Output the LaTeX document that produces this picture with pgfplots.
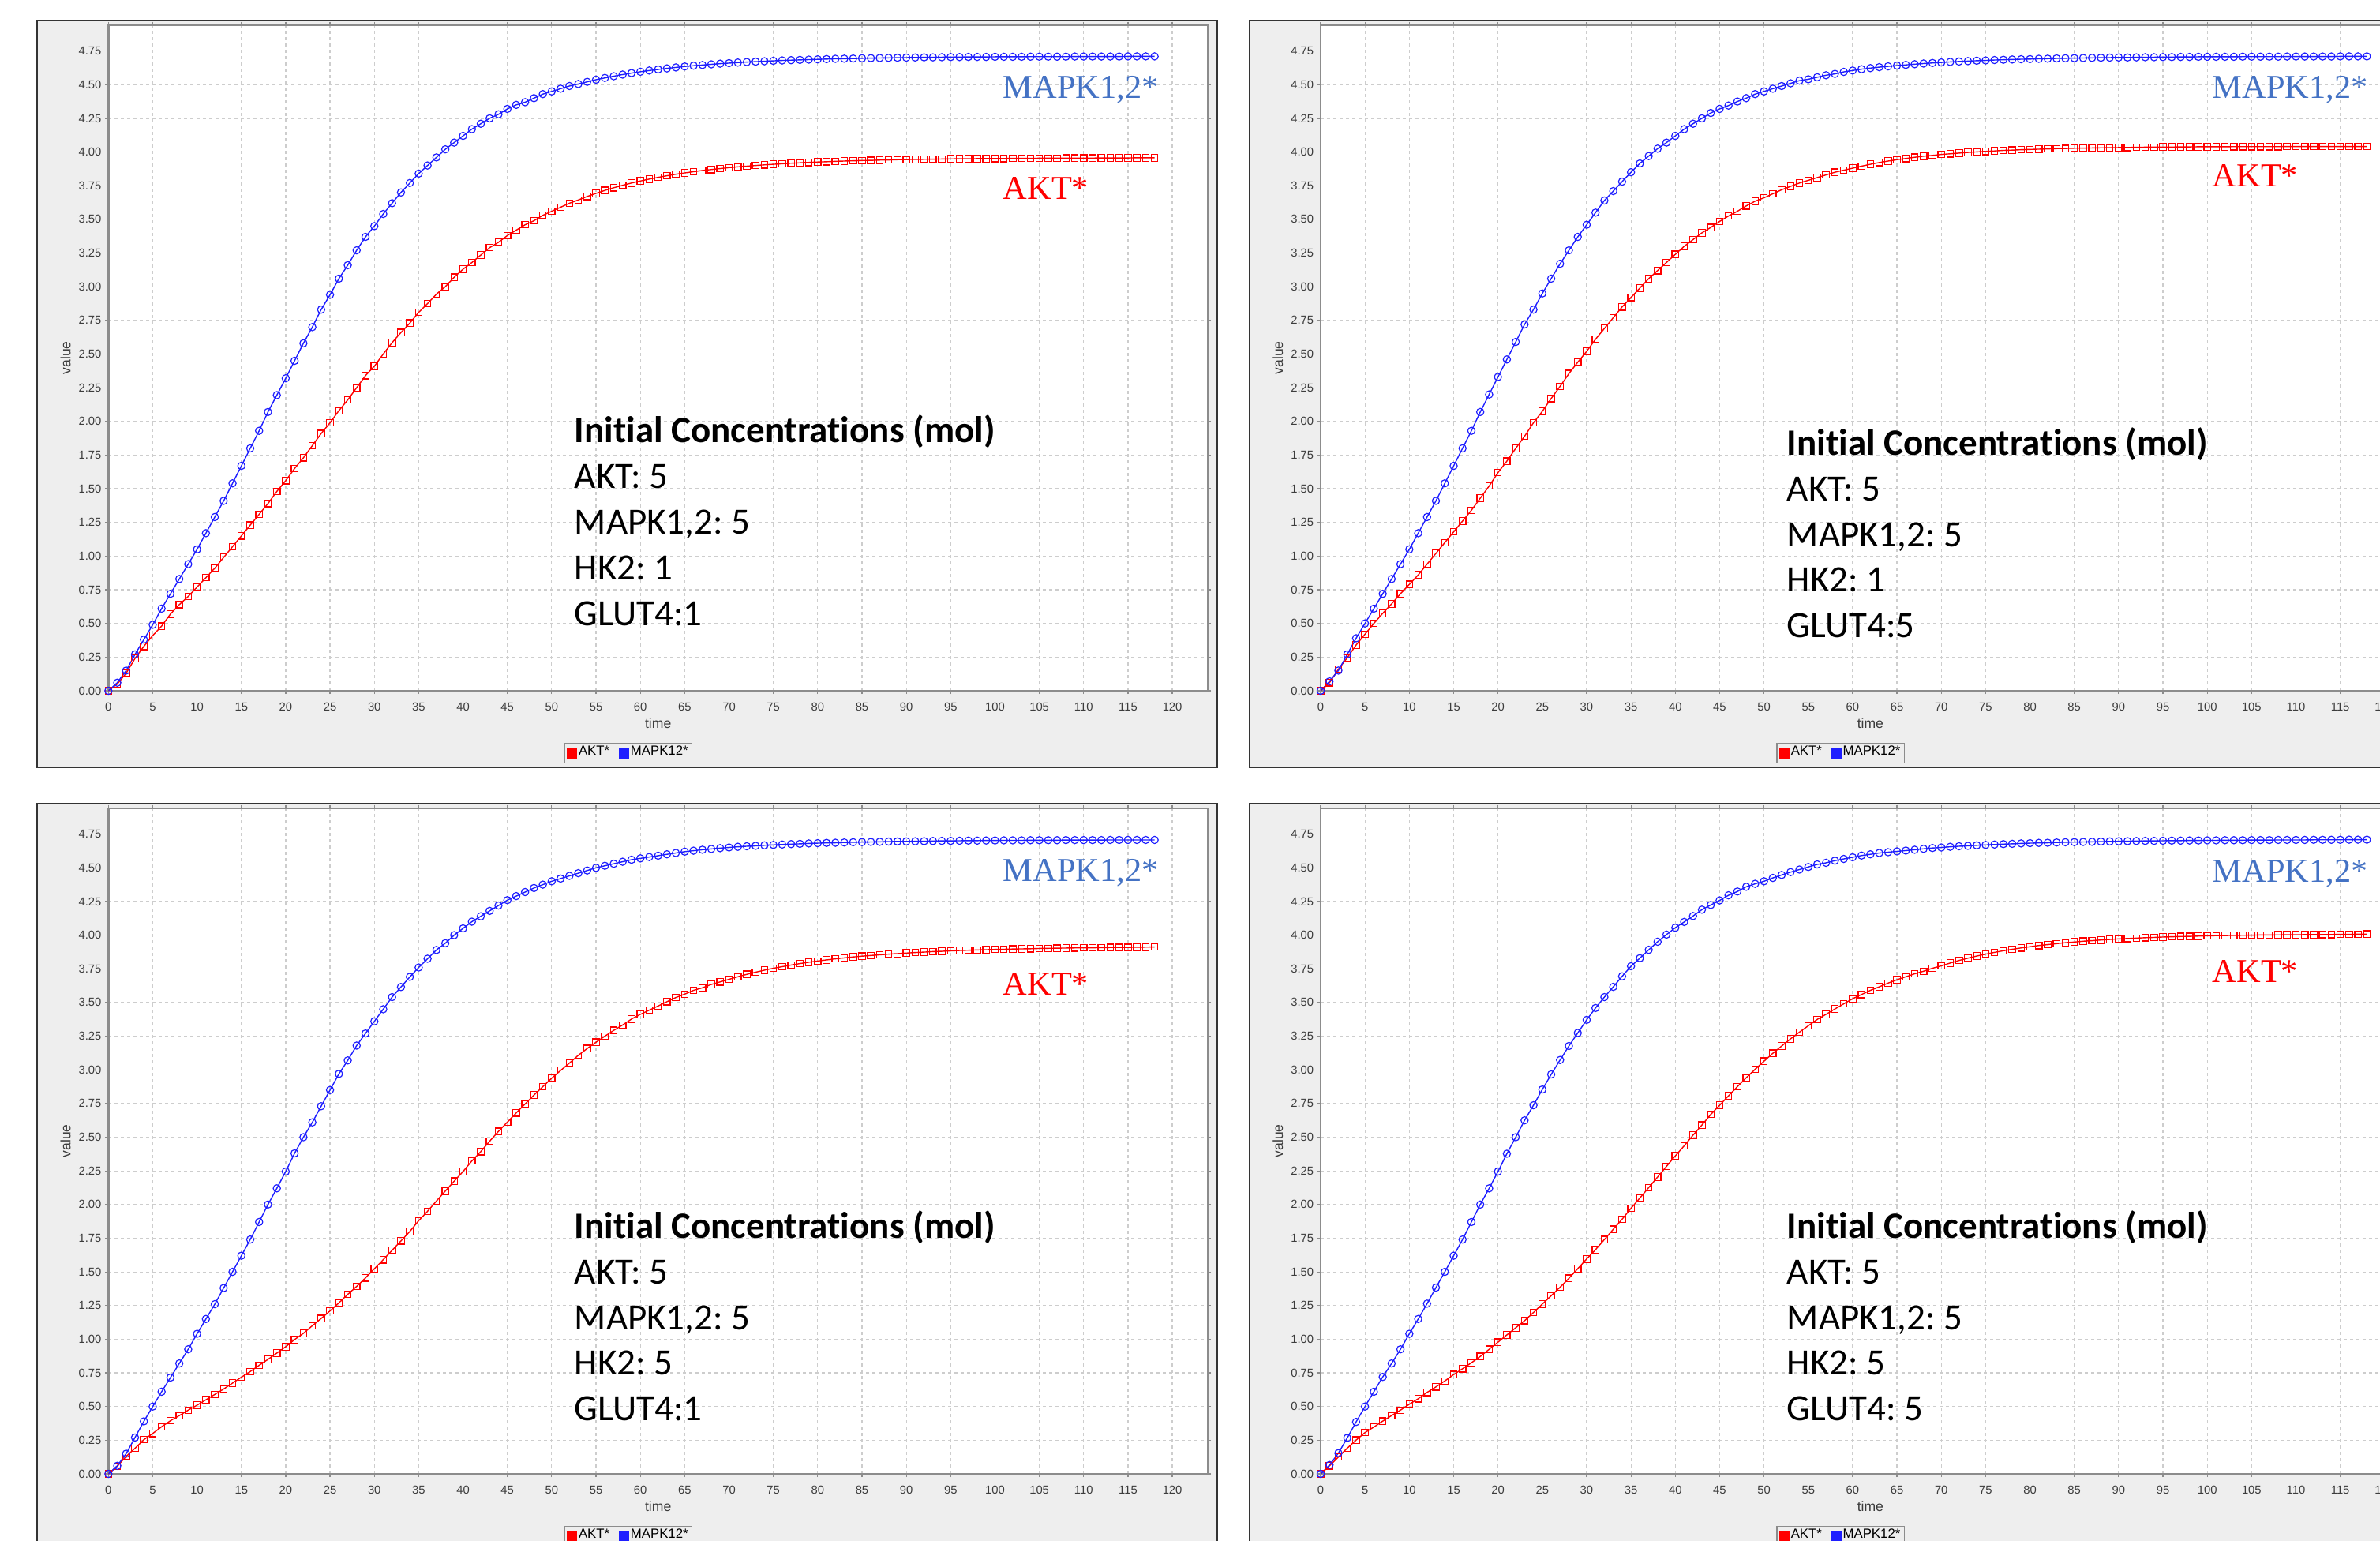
\documentclass[border=0pt]{standalone}
\usepackage{fontspec}
\setmainfont{Liberation Sans}
\newfontfamily\tnr{Liberation Serif}
\newfontfamily\calibri{Carlito}[Ligatures=NoCommon]
\usepackage{pgfplots}
\usepackage{pgfplotstable}
\pgfplotsset{compat=1.18}
\frenchspacing

\definecolor{bgc}{RGB}{238,238,238}
\definecolor{gridc}{RGB}{205,205,205}
\definecolor{framec}{RGB}{140,140,140}
\definecolor{tickc}{RGB}{60,60,60}
\definecolor{mapkc}{RGB}{68,114,196}
\definecolor{serblue}{RGB}{30,30,255}
\definecolor{serred}{RGB}{255,0,0}

\pgfplotstableread{
t b1 r1 b2 r2 b3 r3 b4 r4
0 0 0 0 0 0 0 0 0
1 0.06 0.05 0.07 0.06 0.06 0.056 0.066 0.06
2 0.15 0.13 0.15 0.16 0.15 0.13 0.154 0.125
3 0.27 0.24 0.27 0.245 0.27 0.19 0.267 0.191
4 0.38 0.33 0.39 0.34 0.39 0.254 0.386 0.251
5 0.49 0.41 0.50 0.42 0.50 0.30 0.50 0.307
6 0.61 0.48 0.61 0.50 0.61 0.35 0.61 0.348
7 0.72 0.57 0.72 0.575 0.715 0.395 0.72 0.392
8 0.83 0.64 0.83 0.645 0.82 0.433 0.82 0.433
9 0.94 0.70 0.94 0.72 0.925 0.473 0.925 0.473
10 1.05 0.77 1.05 0.79 1.04 0.51 1.04 0.517
11 1.17 0.84 1.17 0.86 1.15 0.55 1.15 0.558
12 1.29 0.91 1.29 0.94 1.26 0.59 1.264 0.605
13 1.41 0.99 1.41 1.02 1.38 0.63 1.383 0.646
14 1.54 1.07 1.54 1.10 1.50 0.674 1.50 0.69
15 1.67 1.15 1.67 1.18 1.62 0.718 1.62 0.737
16 1.80 1.23 1.80 1.26 1.74 0.76 1.74 0.781
17 1.93 1.31 1.93 1.34 1.87 0.806 1.87 0.825
18 2.07 1.39 2.07 1.43 2.00 0.85 2.00 0.872
19 2.195 1.48 2.20 1.52 2.12 0.897 2.12 0.925
20 2.32 1.56 2.33 1.62 2.245 0.944 2.245 0.978
21 2.45 1.65 2.46 1.705 2.38 0.997 2.377 1.032
22 2.58 1.73 2.59 1.80 2.50 1.044 2.50 1.085
23 2.70 1.82 2.72 1.89 2.61 1.10 2.625 1.138
24 2.83 1.91 2.83 1.99 2.73 1.154 2.737 1.198
25 2.94 1.99 2.95 2.075 2.85 1.21 2.854 1.261
26 3.06 2.08 3.06 2.17 2.97 1.27 2.966 1.323
27 3.16 2.16 3.17 2.26 3.07 1.333 3.073 1.386
28 3.27 2.25 3.27 2.355 3.18 1.392 3.177 1.452
29 3.37 2.34 3.37 2.44 3.27 1.455 3.274 1.524
30 3.45 2.41 3.46 2.52 3.36 1.524 3.371 1.596
31 3.54 2.50 3.55 2.61 3.45 1.59 3.459 1.665
32 3.62 2.585 3.64 2.69 3.54 1.66 3.54 1.74
33 3.70 2.66 3.71 2.77 3.615 1.73 3.616 1.816
34 3.77 2.73 3.78 2.85 3.69 1.80 3.694 1.891
35 3.84 2.81 3.85 2.92 3.76 1.88 3.769 1.972
36 3.90 2.875 3.915 2.99 3.825 1.95 3.829 2.048
37 3.96 2.945 3.97 3.06 3.89 2.026 3.891 2.126
38 4.02 3.00 4.025 3.12 3.94 2.10 3.951 2.204
39 4.07 3.07 4.07 3.18 4.00 2.173 4.004 2.283
40 4.12 3.13 4.12 3.24 4.05 2.245 4.055 2.361
41 4.17 3.18 4.17 3.30 4.10 2.324 4.098 2.436
42 4.21 3.235 4.21 3.35 4.14 2.393 4.142 2.515
43 4.25 3.29 4.25 3.40 4.18 2.47 4.189 2.59
44 4.28 3.33 4.29 3.44 4.22 2.543 4.224 2.669
45 4.32 3.38 4.32 3.485 4.26 2.612 4.258 2.737
46 4.35 3.42 4.345 3.525 4.29 2.68 4.296 2.807
47 4.37 3.46 4.375 3.56 4.32 2.747 4.324 2.875
48 4.40 3.49 4.40 3.60 4.35 2.813 4.359 2.941
49 4.43 3.53 4.43 3.635 4.375 2.875 4.381 3.004
50 4.45 3.56 4.45 3.66 4.40 2.938 4.40 3.064
51 4.47 3.59 4.47 3.69 4.42 2.995 4.425 3.123
52 4.49 3.62 4.49 3.72 4.44 3.05 4.447 3.177
53 4.505 3.644 4.51 3.745 4.46 3.108 4.468 3.23
54 4.521 3.670 4.53 3.77 4.48 3.158 4.487 3.28
55 4.537 3.693 4.54 3.79 4.50 3.205 4.506 3.327
56 4.550 3.715 4.555 3.81 4.515 3.25 4.525 3.374
57 4.563 3.735 4.57 3.83 4.53 3.293 4.537 3.412
58 4.575 3.753 4.58 3.85 4.545 3.333 4.553 3.452
59 4.586 3.770 4.595 3.865 4.56 3.377 4.566 3.49
60 4.596 3.785 4.605 3.88 4.57 3.412 4.578 3.528
61 4.605 3.799 4.615 3.895 4.58 3.443 4.591 3.559
62 4.613 3.812 4.623 3.909 4.59 3.474 4.60 3.59
63 4.621 3.824 4.630 3.922 4.60 3.506 4.61 3.616
64 4.628 3.835 4.636 3.933 4.61 3.537 4.616 3.644
65 4.635 3.845 4.642 3.943 4.62 3.562 4.622 3.669
66 4.641 3.854 4.647 3.952 4.627 3.59 4.628 3.691
67 4.646 3.863 4.652 3.961 4.634 3.609 4.634 3.713
68 4.651 3.870 4.657 3.969 4.64 3.634 4.641 3.732
69 4.656 3.877 4.661 3.975 4.646 3.653 4.647 3.754
70 4.660 3.884 4.665 3.982 4.651 3.672 4.651 3.772
71 4.664 3.890 4.669 3.987 4.656 3.691 4.656 3.793
72 4.668 3.895 4.672 3.992 4.660 3.709 4.660 3.812
73 4.671 3.900 4.675 3.997 4.663 3.725 4.663 3.829
74 4.674 3.905 4.678 4.001 4.667 3.740 4.667 3.845
75 4.677 3.909 4.680 4.005 4.670 3.754 4.670 3.859
76 4.680 3.913 4.683 4.008 4.673 3.766 4.673 3.872
77 4.682 3.917 4.685 4.012 4.676 3.778 4.676 3.884
78 4.684 3.920 4.687 4.014 4.678 3.789 4.678 3.895
79 4.686 3.923 4.689 4.017 4.681 3.799 4.681 3.905
80 4.688 3.926 4.690 4.019 4.683 3.808 4.683 3.914
81 4.690 3.928 4.692 4.021 4.685 3.816 4.685 3.923
82 4.692 3.931 4.693 4.023 4.686 3.824 4.686 3.930
83 4.693 3.933 4.695 4.025 4.688 3.831 4.688 3.937
84 4.694 3.935 4.696 4.026 4.690 3.838 4.690 3.944
85 4.696 3.937 4.697 4.028 4.691 3.844 4.691 3.949
86 4.697 3.938 4.698 4.029 4.692 3.849 4.692 3.955
87 4.698 3.940 4.699 4.030 4.693 3.854 4.693 3.959
88 4.699 3.941 4.700 4.031 4.695 3.859 4.695 3.964
89 4.700 3.943 4.701 4.032 4.696 3.863 4.696 3.968
90 4.701 3.944 4.702 4.033 4.696 3.867 4.697 3.972
91 4.702 3.945 4.702 4.034 4.697 3.871 4.698 3.975
92 4.703 3.946 4.703 4.035 4.698 3.874 4.699 3.978
93 4.703 3.947 4.704 4.036 4.699 3.878 4.700 3.981
94 4.704 3.948 4.704 4.036 4.700 3.880 4.700 3.983
95 4.705 3.949 4.705 4.037 4.700 3.883 4.701 3.986
96 4.705 3.950 4.705 4.037 4.701 3.886 4.702 3.988
97 4.706 3.950 4.706 4.038 4.702 3.888 4.702 3.990
98 4.706 3.951 4.706 4.038 4.702 3.890 4.703 3.991
99 4.706 3.951 4.707 4.039 4.703 3.892 4.703 3.993
100 4.707 3.952 4.707 4.039 4.703 3.894 4.704 3.995
101 4.707 3.952 4.707 4.039 4.704 3.895 4.704 3.996
102 4.707 3.953 4.707 4.039 4.704 3.897 4.705 3.997
103 4.707 3.953 4.707 4.040 4.704 3.898 4.705 3.998
104 4.708 3.953 4.708 4.040 4.705 3.899 4.705 3.999
105 4.708 3.954 4.708 4.040 4.705 3.901 4.706 4.000
106 4.708 3.954 4.708 4.040 4.705 3.902 4.706 4.001
107 4.708 3.954 4.708 4.040 4.705 3.903 4.706 4.001
108 4.708 3.955 4.708 4.040 4.706 3.904 4.707 4.002
109 4.709 3.955 4.709 4.041 4.706 3.905 4.707 4.003
110 4.709 3.955 4.709 4.041 4.706 3.906 4.707 4.003
111 4.709 3.955 4.709 4.041 4.706 3.906 4.707 4.004
112 4.709 3.956 4.709 4.041 4.706 3.907 4.708 4.004
113 4.709 3.956 4.709 4.041 4.707 3.908 4.708 4.005
114 4.709 3.956 4.709 4.041 4.707 3.908 4.708 4.005
115 4.710 3.956 4.710 4.041 4.707 3.909 4.708 4.006
116 4.710 3.957 4.710 4.041 4.707 3.910 4.709 4.006
117 4.710 3.957 4.710 4.041 4.707 3.911 4.709 4.007
118 4.710 3.957 4.710 4.041 4.707 3.912 4.709 4.008
}\data

\pgfplotsset{
  panel/.style={
    scale only axis, width=348.175pt, height=210.825pt,
    anchor=south west,
    xmin=0, xmax=124, ymin=0, ymax=4.943,
    xtick={0,5,10,15,20,25,30,35,40,45,50,55,60,65,70,75,80,85,90,95,100,105,110,115,120},
    ytick={0,0.25,0.5,0.75,1,1.25,1.5,1.75,2,2.25,2.5,2.75,3,3.25,3.5,3.75,4,4.25,4.5,4.75},
    grid=major,
    grid style={draw=gridc, line width=0.3pt, dash pattern=on 1pt off 1pt},
    axis line style={draw=framec, line width=0.6pt},
    tick align=outside, major tick length=1pt,
    tick style={draw=framec, line width=0.3pt},
    /pgf/number format/assume math mode=true,
    ticklabel style={font=\fontsize{3.7}{4}\selectfont, text=tickc},
    yticklabel style={/pgf/number format/fixed, /pgf/number format/fixed zerofill, /pgf/number format/precision=2, xshift=2.3pt},
    xticklabel style={/pgf/number format/fixed, yshift=0.7pt},
    xlabel={time}, ylabel={value},
    label style={font=\fontsize{4.4}{5}\selectfont, text=tickc},
    xlabel style={at={(axis description cs:0.5,-0.0486)}, anchor=center},
    ylabel style={at={(axis description cs:-0.039,0.5)}, anchor=center},
    axis background/.style={fill=white},
    legend columns=2,
    legend image code/.code={\fill (0pt,-1.7pt) rectangle (2.8pt,1.7pt);},
    legend style={at={(axis description cs:0.473,-0.0937)}, anchor=center,
      draw=framec, fill=bgc, line width=0.3pt,
      font=\fontsize{4.2}{4.6}\selectfont, text=black,
      inner xsep=0.8pt, inner ysep=0.5pt,
      nodes={inner sep=0.5pt},
      /tikz/every even column/.append style={column sep=2.5pt}},
  },
  akt/.style={color=serred, line width=0.35pt, mark=square, mark size=1.05pt, mark options={solid, line width=0.3pt}},
  mapk/.style={color=serblue, line width=0.35pt, mark=o, mark size=1.15pt, mark options={solid, line width=0.3pt}},
}

\newcommand\conc[4]{%
  \begin{scope}[every node/.style={anchor=base west, inner sep=0pt, font=\calibri\fontsize{11.75}{14}\selectfont}]
    \node at (#1pt,#2pt) {\bfseries Initial Concentrations (mol)};
    \node at (#1pt,#2pt) [yshift=-14.45pt] {AKT: 5};
    \node at (#1pt,#2pt) [yshift=-28.9pt] {MAPK1,2: 5};
    \node at (#1pt,#2pt) [yshift=-43.35pt] {#3};
    \node at (#1pt,#2pt) [yshift=-57.8pt] {#4};
  \end{scope}}

\newcommand\serlab[4]{%
  \node[anchor=base west, inner sep=0pt, text=mapkc, font=\tnr\fontsize{10.6}{12}\selectfont] at (#1pt,#2pt) {MAPK1,2*};
  \node[anchor=base west, inner sep=0pt, text=serred, font=\tnr\fontsize{10.6}{12}\selectfont] at (#3pt,#4pt) {AKT*};}

\begin{document}
\begin{tikzpicture}
\useasboundingbox (0,0) rectangle (753.75pt,487.75pt);
\clip (0,0) rectangle (753.75pt,487.75pt);
\fill[white] (0,0) rectangle (753.75pt,487.75pt);
% panel backgrounds
\filldraw[fill=bgc, draw=black!80, line width=0.5pt] (11.75pt,244.75pt) rectangle (385.5pt,481.325pt);
\filldraw[fill=bgc, draw=black!80, line width=0.5pt] (395.675pt,244.75pt) rectangle (769.425pt,481.325pt);
\filldraw[fill=bgc, draw=black!80, line width=0.5pt] (11.75pt,-3.25pt) rectangle (385.5pt,233.325pt);
\filldraw[fill=bgc, draw=black!80, line width=0.5pt] (395.675pt,-3.25pt) rectangle (769.425pt,233.325pt);

\begin{axis}[panel, at={(34.325pt,269pt)}]
\addplot[akt] table[x=t,y=r1]{\data}; \addlegendentry{AKT*}
\addplot[mapk] table[x=t,y=b1]{\data}; \addlegendentry{MAPK12*}
\end{axis}
\begin{axis}[panel, at={(418.25pt,269pt)}]
\addplot[akt] table[x=t,y=r2]{\data}; \addlegendentry{AKT*}
\addplot[mapk] table[x=t,y=b2]{\data}; \addlegendentry{MAPK12*}
\end{axis}
\begin{axis}[panel, at={(34.325pt,21pt)}]
\addplot[akt] table[x=t,y=r3]{\data}; \addlegendentry{AKT*}
\addplot[mapk] table[x=t,y=b3]{\data}; \addlegendentry{MAPK12*}
\end{axis}
\begin{axis}[panel, at={(418.25pt,21pt)}]
\addplot[akt] table[x=t,y=r4]{\data}; \addlegendentry{AKT*}
\addplot[mapk] table[x=t,y=b4]{\data}; \addlegendentry{MAPK12*}
\end{axis}

\conc{181.75}{347.5}{HK2: 1}{GLUT4:1}
\conc{565.75}{343.625}{HK2: 1}{GLUT4:5}
\conc{181.75}{95.625}{HK2: 5}{GLUT4:1}
\conc{565.75}{95.625}{HK2: 5}{GLUT4: 5}

\serlab{317.5}{456.5}{317.5}{424.5}
\serlab{700.5}{456.5}{700.5}{428.575}
\serlab{317.5}{208.75}{317.5}{172.75}
\serlab{700.5}{208.5}{700.5}{176.75}
\end{tikzpicture}
\end{document}
